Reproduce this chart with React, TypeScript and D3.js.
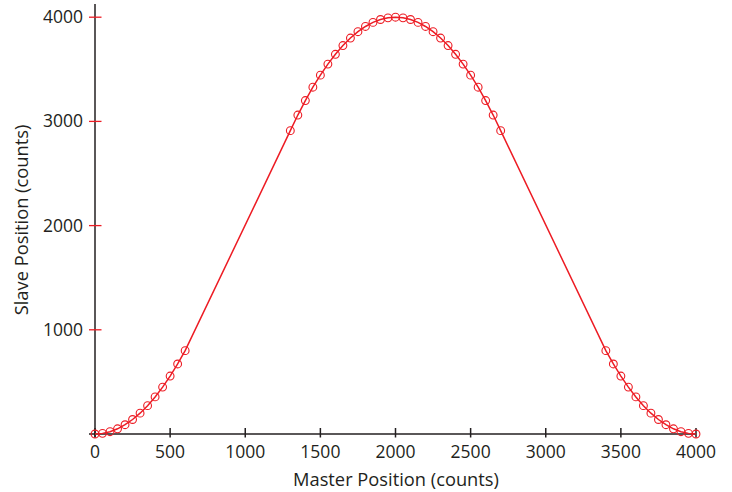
import React from "react";
import * as d3 from "d3";

const masterRise = [0, 50, 100, 150, 200, 250, 300, 350, 400, 450, 500, 550, 600];
const slaveRise = [0, 6, 22, 50, 89, 139, 200, 272, 356, 450, 556, 672, 800];

const masterTop = [1300, 1350, 1400, 1450, 1500, 1550, 1600, 1650, 1700, 1750, 1800, 1850, 1900, 1950, 2000, 2050, 2100, 2150, 2200, 2250, 2300, 2350, 2400, 2450, 2500, 2550, 2600, 2650, 2700];
const slaveTop = [2911, 3061, 3200, 3328, 3444, 3550, 3644, 3728, 3800, 3861, 3911, 3950, 3978, 3994, 4000, 3994, 3978, 3950, 3911, 3861, 3800, 3728, 3644, 3550, 3444, 3328, 3200, 3061, 2911];

const masterFall = [3400, 3450, 3500, 3550, 3600, 3650, 3700, 3750, 3800, 3850, 3900, 3950, 4000];
const slaveFall = [800, 672, 556, 450, 356, 272, 200, 139, 89, 50, 22, 6, 0];

const xTicks = [0, 500, 1000, 1500, 2000, 2500, 3000, 3500, 4000];
const yTicks = [1000, 2000, 3000, 4000];

const xTitle = "Master Position (counts)";
const yTitle = "Slave Position (counts)";

const RED = "#ed1c24";
const INK = "#231f20";
const FONT = "'Open Sans', sans-serif";

export default function App() {
  const x = d3.scaleLinear().domain([0, 4000]).range([95, 696]);
  const y = d3.scaleLinear().domain([0, 4000]).range([434, 17.2]);

  const pts: [number, number][] = [];
  masterRise.forEach((m, i) => pts.push([m, slaveRise[i]]));
  masterTop.forEach((m, i) => pts.push([m, slaveTop[i]]));
  masterFall.forEach((m, i) => pts.push([m, slaveFall[i]]));

  const line = d3
    .line<[number, number]>()
    .x((d) => x(d[0]))
    .y((d) => y(d[1]));

  const y0 = y(0);
  const x0 = x(0);

  return (
    <svg
      width={732}
      height={492}
      style={{ position: "absolute", left: 0, top: 0, background: "#fff" }}
    >
      {/* axes */}
      <line x1={89} x2={x(4000)} y1={y0} y2={y0} stroke={INK} strokeWidth={1.5} />
      <line x1={x0} x2={x0} y1={4} y2={437.5} stroke={INK} strokeWidth={1.5} />
      {xTicks.map((t) => (
        <g key={"xt" + t}>
          <line x1={x(t)} x2={x(t)} y1={y0 - 6} y2={y0 + 3.5} stroke={INK} strokeWidth={1.5} />
          <text
            x={x(t)}
            y={457.5}
            textAnchor="middle"
            fontFamily={FONT}
            fontSize={17.5}
            fill={INK}
          >
            {t}
          </text>
        </g>
      ))}
      {yTicks.map((t) => (
        <g key={"yt" + t}>
          <line x1={89} x2={101.5} y1={y(t)} y2={y(t)} stroke={RED} strokeWidth={1.3} />
          <text
            x={83}
            y={y(t) + 6}
            textAnchor="end"
            fontFamily={FONT}
            fontSize={17.5}
            fill={INK}
          >
            {t}
          </text>
        </g>
      ))}
      <text
        x={396}
        y={486}
        textAnchor="middle"
        fontFamily={FONT}
        fontSize={18.3}
        fill={INK}
      >
        {xTitle}
      </text>
      <text
        transform={`translate(28,220) rotate(-90)`}
        textAnchor="middle"
        fontFamily={FONT}
        fontSize={18.3}
        fill={INK}
      >
        {yTitle}
      </text>

      {/* curve */}
      <path d={line(pts) ?? ""} fill="none" stroke={RED} strokeWidth={1.5} />
      {pts.map((p, i) => (
        <circle
          key={"p" + i}
          cx={x(p[0])}
          cy={y(p[1])}
          r={3.9}
          fill="none"
          stroke={RED}
          strokeWidth={1.1}
        />
      ))}
    </svg>
  );
}
